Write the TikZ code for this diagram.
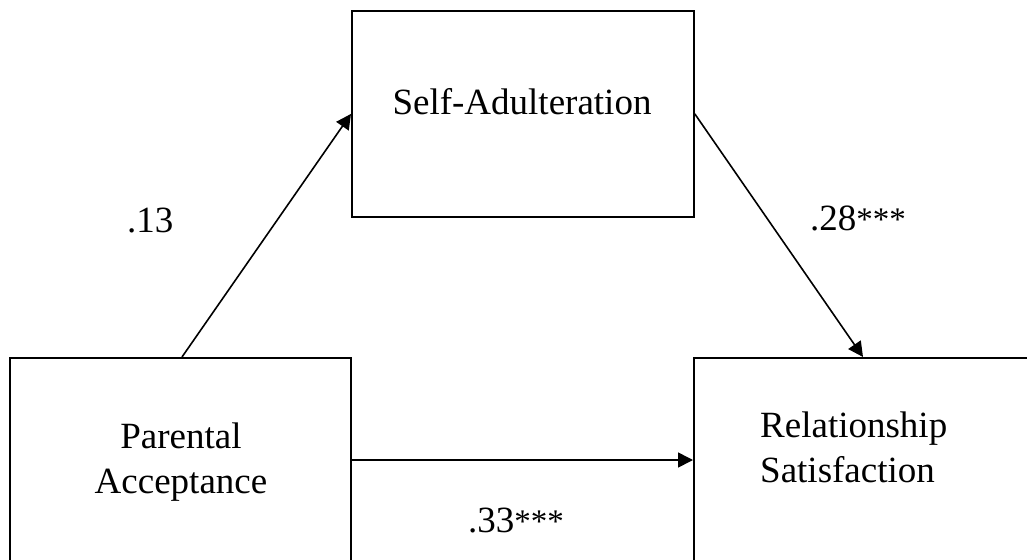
\documentclass[tikz,border=0pt]{standalone}
\usepackage{fontspec}
\setmainfont{Liberation Serif}
\usetikzlibrary{arrows.meta}
\begin{document}
\begin{tikzpicture}[x=1pt,y=-1pt,
  box/.style={draw,line width=1.8pt,rectangle,inner sep=0pt,anchor=north west},
  conn/.style={line width=1.6pt,-{Triangle[length=15pt,width=15pt]}},
  txt/.style={font=\fontsize{37}{44.5}\selectfont,inner sep=0pt}]
\newcommand{\stars}{{\fontsize{33}{35}\selectfont***}}
\useasboundingbox (0,0) rectangle (1027,559);
\clip (0,0) rectangle (1027,559);
\node[box,minimum width=342pt,minimum height=206pt] (sa) at (351,10) {};
\node[box,minimum width=341pt,minimum height=260pt] (pa) at (9,357) {};
\node[box,minimum width=350pt,minimum height=260pt] (rs) at (693,357) {};
\node[txt,anchor=base] (tsa) at (522,115) {Self-Adulteration};
\node[txt,anchor=base,align=center] (tpa) at (181,493) {Parental\\Acceptance};
\node[txt,anchor=base west,align=left] (trs) at (760,482) {Relationship\\Satisfaction};
\draw[conn] ([xshift=173pt]pa.north west) -- (sa.west);
\draw[conn] (sa.east) -- ([xshift=170pt]rs.north west);
\draw[conn] ([yshift=-103pt]pa.north east) -- ([yshift=-103pt]rs.north west);
\node[txt,anchor=base west] (l1) at (127,232) {.13};
\node[txt,anchor=base west] (l2) at (810,230) {.28\stars};
\node[txt,anchor=base west] (l3) at (468,532) {.33\stars};
\end{tikzpicture}
\end{document}
